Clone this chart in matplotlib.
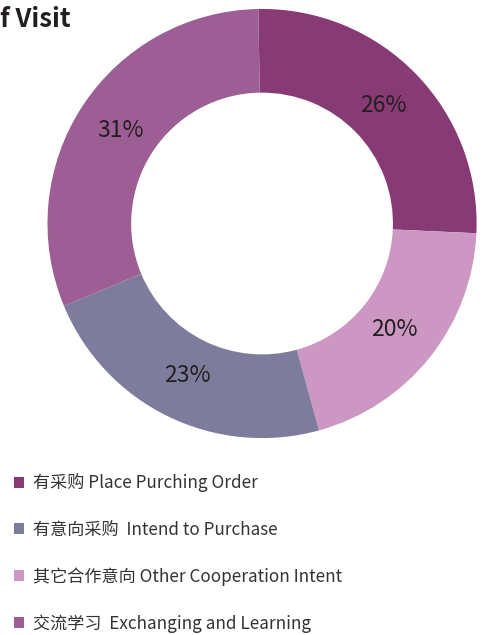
import matplotlib
matplotlib.use("Agg")
import matplotlib.pyplot as plt
from matplotlib.patches import Patch

plt.rcParams['font.family'] = ['Noto Sans CJK SC', 'DejaVu Sans']

title = "f Visit"
categories = ["有采购 Place Purching Order", "有意向采购  Intend to Purchase",
              "其它合作意向 Other Cooperation Intent", "交流学习  Exchanging and Learning"]
values = [26, 23, 20, 31]  # percent
colors = ["#873A74", "#7E7C9C", "#CC97C3", "#9D5E96"]
pie_order = [0, 2, 1, 3]  # clockwise from top

fig = plt.figure(figsize=(4.86, 6.35), dpi=100)
ax = fig.add_axes([0.0977, 0.310, 0.883, 0.676])
wedges, texts, autotexts = ax.pie(
    [values[i] for i in pie_order],
    colors=[colors[i] for i in pie_order],
    startangle=91, counterclock=False, radius=1,
    wedgeprops=dict(width=0.39, linewidth=0),
    autopct=lambda p: f"{p:.0f}%", pctdistance=0.79,
    textprops=dict(fontsize=16.5, color="#231F20"))
ax.set_xlim(-1, 1)
ax.set_ylim(-1, 1)
ax.set_aspect('equal')
ax.axis('off')

fig.text(0.0, 0.969, title, fontsize=18.5, fontweight='bold', color="#231F20",
         ha='left', va='center')

handles = [Patch(facecolor=c, edgecolor='none') for c in colors]
fig.legend(handles, categories, loc='upper left', bbox_to_anchor=(0.028, 0.2545),
           frameon=False, fontsize=12.3, labelcolor="#333333",
           handlelength=0.6, handleheight=0.6, handletextpad=0.55,
           labelspacing=1.66, borderpad=0, borderaxespad=0)

fig.savefig("out.png", dpi=100)
